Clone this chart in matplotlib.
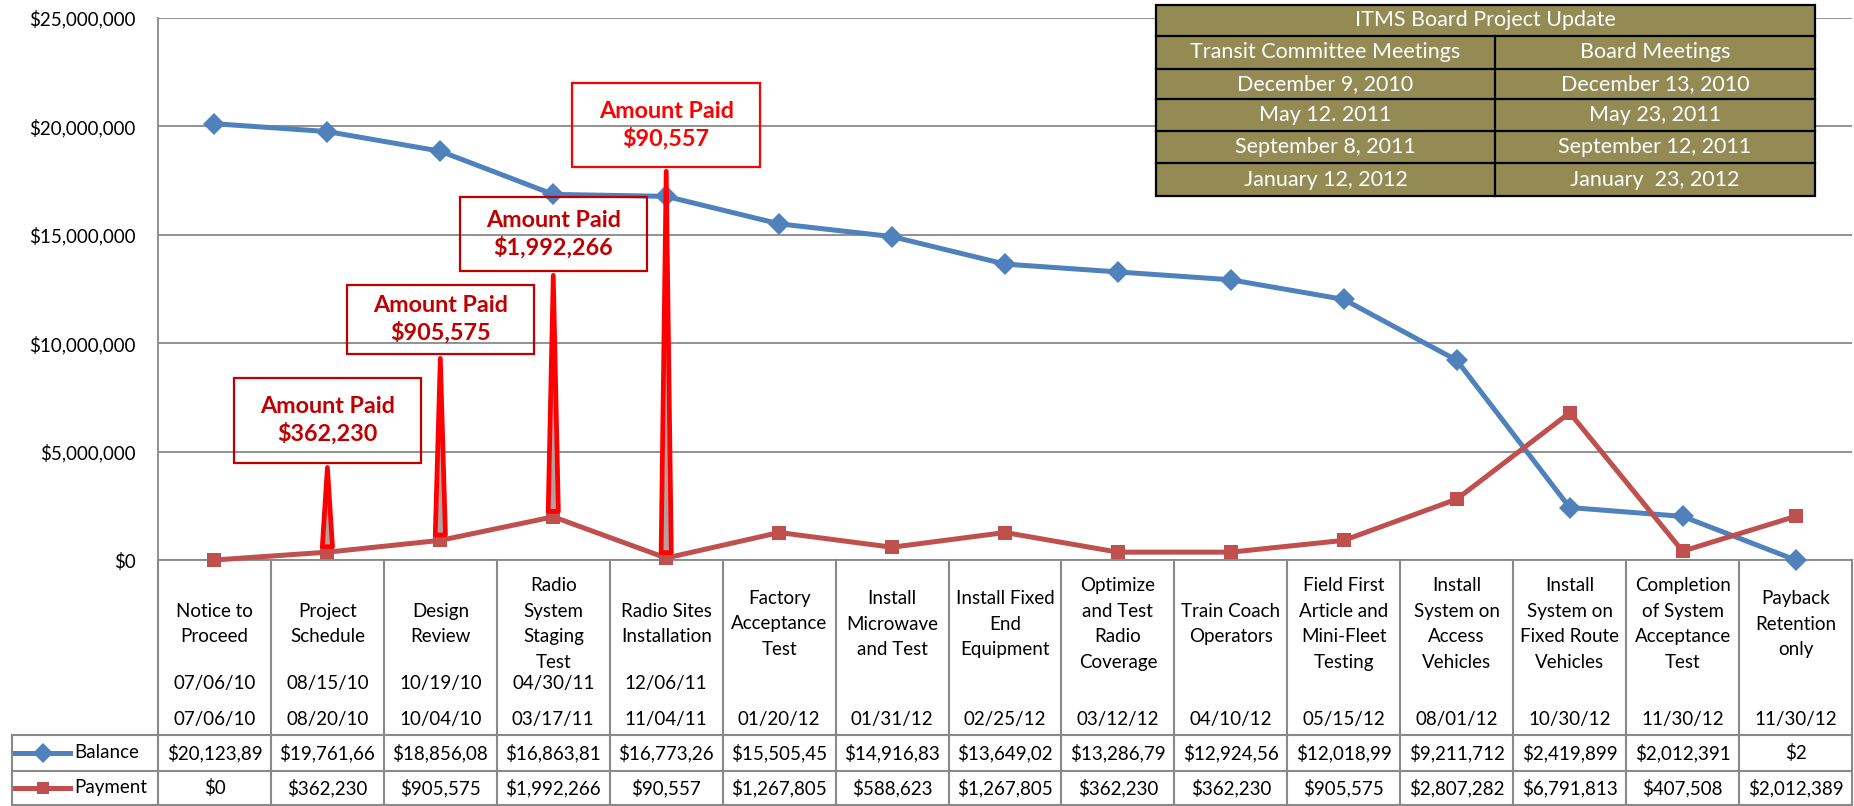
import numpy as np
import matplotlib.pyplot as plt
from matplotlib.patches import Rectangle, Polygon
from matplotlib.lines import Line2D
from matplotlib.ticker import FuncFormatter

plt.rcParams['font.family'] = ['Lato', 'DejaVu Sans']

milestones = ["Notice to\nProceed", "Project\nSchedule", "Design\nReview",
              "Radio\nSystem\nStaging\nTest", "Radio Sites\nInstallation",
              "Factory\nAcceptance\nTest", "Install\nMicrowave\nand Test",
              "Install Fixed\nEnd\nEquipment", "Optimize\nand Test\nRadio\nCoverage",
              "Train Coach\nOperators", "Field First\nArticle and\nMini-Fleet\nTesting",
              "Install\nSystem on\nAccess\nVehicles", "Install\nSystem on\nFixed Route\nVehicles",
              "Completion\nof System\nAcceptance\nTest", "Payback\nRetention\nonly"]
planned_dates = ["07/06/10", "08/15/10", "10/19/10", "04/30/11", "12/06/11",
                 "", "", "", "", "", "", "", "", "", ""]
actual_dates = ["07/06/10", "08/20/10", "10/04/10", "03/17/11", "11/04/11", "01/20/12",
                "01/31/12", "02/25/12", "03/12/12", "04/10/12", "05/15/12", "08/01/12",
                "10/30/12", "11/30/12", "11/30/12"]
balance = [20123890, 19761660, 18856085, 16863819, 16773262, 15505457, 14916834,
           13649029, 13286799, 12924569, 12018994, 9211712, 2419899, 2012391, 2]
payment = [0, 362230, 905575, 1992266, 90557, 1267805, 588623, 1267805, 362230,
           362230, 905575, 2807282, 6791813, 407508, 2012389]
paid_callouts = [1, 2, 3, 4]
committee_meetings = ["December 9, 2010", "May 12. 2011", "September 8, 2011", "January 12, 2012"]
board_meetings = ["December 13, 2010", "May 23, 2011", "September 12, 2011", "January  23, 2012"]

BLUE = '#4F81BD'
RED = '#C0504D'
GRID = '#898989'
OLIVE = '#948A54'
FS = 13.5

W, H = 1854, 806
fig = plt.figure(figsize=(W / 100, H / 100), dpi=100)
L, R, T, B = 158, 1852, 18, 560   # plot area in pixels
ax = fig.add_axes([L / W, 1 - B / H, (R - L) / W, (B - T) / H])

n = len(milestones)
x = np.arange(n)
ax.set_xlim(-0.5, n - 0.5)
ax.set_ylim(0, 25e6)
ax.set_yticks(np.arange(0, 25e6 + 1, 5e6))
ax.yaxis.set_major_formatter(FuncFormatter(lambda v, p: f"${v:,.0f}"))
ax.tick_params(axis='y', length=0, pad=16, labelsize=FS)
ax.set_xticks([])
ax.grid(axis='y', color=GRID, lw=1.3)
ax.set_axisbelow(True)
for s in ['top', 'right']:
    ax.spines[s].set_visible(False)
for s in ['left', 'bottom']:
    ax.spines[s].set_color(GRID)
    ax.spines[s].set_linewidth(1.3)

ax.plot(x, balance, color=BLUE, lw=3.6, marker='D', ms=11, mew=0, clip_on=False, zorder=4)
ax.plot(x, payment, color=RED, lw=3.6, marker='s', ms=10, mew=0, clip_on=False, zorder=5)

# "Amount Paid" callouts (box bottom, box height in $)
box_bottom = [4.47e6, 9.50e6, 13.33e6, 18.13e6]
box_height = [3.93e6, 3.18e6, 3.41e6, 3.87e6]
box_color = ['#C00000', '#C00000', '#C00000', '#FF0000']
for k, i in enumerate(paid_callouts):
    yb, h = box_bottom[k], box_height[k]
    ax.add_patch(Rectangle((i - 0.83, yb), 1.66, h, fill=False,
                           edgecolor=box_color[k], lw=1.6, zorder=6))
    ax.text(i, yb + h / 2, f"Amount Paid\n${payment[i]:,}", ha='center', va='center',
            fontsize=16.8, fontweight='bold', color=box_color[k], linespacing=1.3, zorder=7)
    base = payment[i] + 0.25e6
    ax.add_patch(Polygon([(i - 0.045, base), (i, yb - 0.2e6), (i + 0.045, base)],
                         closed=True, facecolor='#B4A0A0', edgecolor='#FF0000',
                         lw=3.4, joinstyle='round', zorder=6))

# data table below the chart
tab = fig.add_axes([L / W, 0, (R - L) / W, (H - B) / H])
tab.set_xlim(-0.5, n - 0.5)
tab.set_ylim(H - B, 0)
tab.axis('off')
colw = (R - L) / n
x_leg = -0.5 - (L - 12) / colw
row_top, row_mid, row_bot = 175, 211, 245
for i in range(n + 1):
    tab.plot([i - 0.5, i - 0.5], [0, row_bot], color=GRID, lw=1.5, clip_on=False)
for yy in [row_top, row_mid, row_bot]:
    tab.plot([x_leg, n - 0.5], [yy, yy], color=GRID, lw=1.5, clip_on=False)
tab.plot([x_leg, x_leg], [row_top, row_bot], color=GRID, lw=1.5, clip_on=False)

for i in range(n):
    tab.text(i, 64, milestones[i], ha='center', va='center', fontsize=FS, linespacing=1.6)
    tab.text(i, 124, planned_dates[i], ha='center', va='center', fontsize=FS)
    tab.text(i, 159, actual_dates[i], ha='center', va='center', fontsize=FS)
    tab.text(i, 193, f"${balance[i]:,}"[:10], ha='center', va='center', fontsize=FS)
    tab.text(i, 228, f"${payment[i]:,}"[:10], ha='center', va='center', fontsize=FS)

for yy, col, mk, ms, lab in [(193, BLUE, 'D', 10, 'Balance'), (228, RED, 's', 9, 'Payment')]:
    x0 = x_leg + 3 / colw
    x1 = x_leg + 58 / colw
    tab.add_line(Line2D([x0, x1], [yy, yy], color=col, lw=3.6, clip_on=False))
    tab.add_line(Line2D([(x0 + x1) / 2], [yy], color=col, marker=mk, ms=ms, mew=0, clip_on=False))
    tab.text(x_leg + 62 / colw, yy, lab, ha='left', va='center', fontsize=FS, clip_on=False)

# meeting schedule box (pixel coordinates)
ov = fig.add_axes([0, 0, 1, 1], zorder=10)
ov.set_xlim(0, W)
ov.set_ylim(H, 0)
ov.axis('off')
tx0, tx1, tmid = 1156, 1815, 1495
rows_y = [5, 36, 69, 99, 131, 163, 196]
ov.add_patch(Rectangle((tx0, rows_y[0]), tx1 - tx0, rows_y[-1] - rows_y[0],
                       facecolor=OLIVE, edgecolor='black', lw=1.6))
for yy in rows_y[1:-1]:
    ov.plot([tx0, tx1], [yy, yy], color='black', lw=1.6)
ov.plot([tmid, tmid], [rows_y[1], rows_y[-1]], color='black', lw=1.6)
ov.text((tx0 + tx1) / 2, (rows_y[0] + rows_y[1]) / 2, "ITMS Board Project Update",
        ha='center', va='center', color='white', fontsize=15.5)
left_col = ["Transit Committee Meetings"] + committee_meetings
right_col = ["Board Meetings"] + board_meetings
for r in range(len(left_col)):
    yc = (rows_y[r + 1] + rows_y[r + 2]) / 2
    ov.text((tx0 + tmid) / 2, yc, left_col[r], ha='center', va='center', color='white', fontsize=15.5)
    ov.text((tmid + tx1) / 2, yc, right_col[r], ha='center', va='center', color='white', fontsize=15.5)

fig.savefig('out.png', dpi=100)
